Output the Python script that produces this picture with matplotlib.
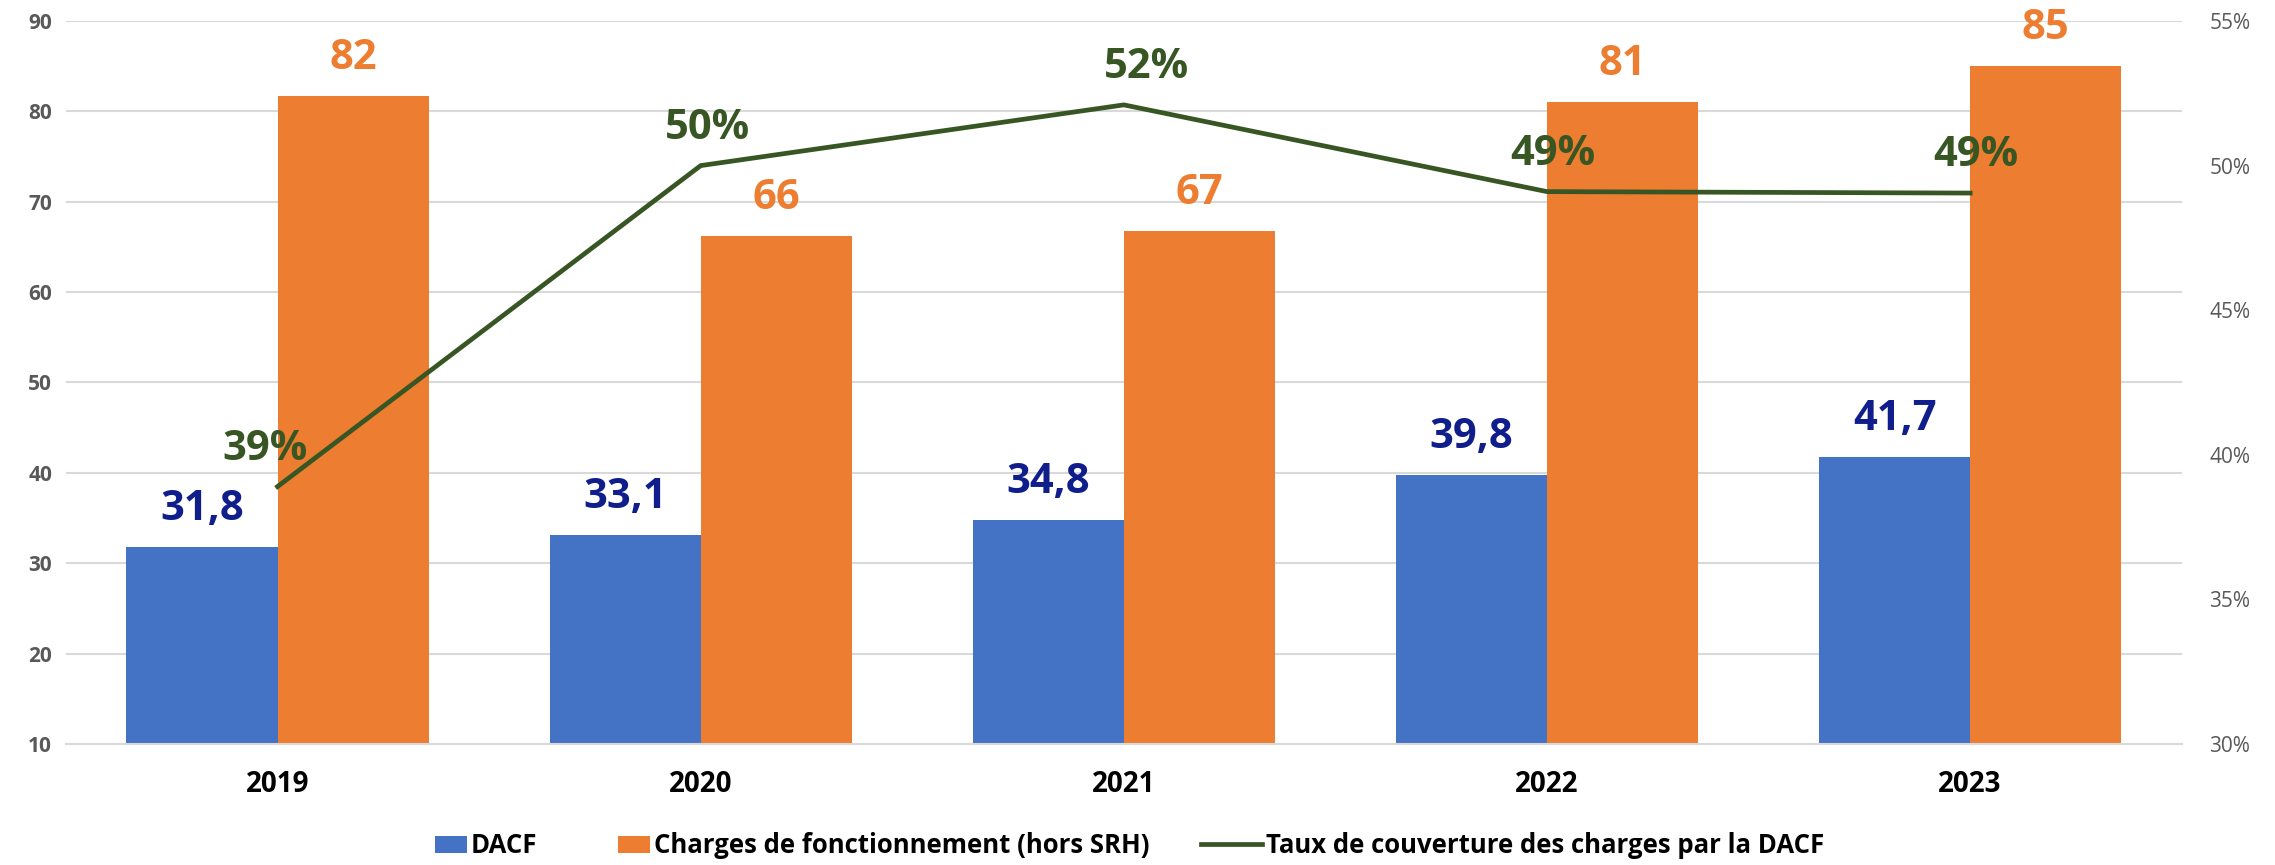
import numpy as np
import matplotlib.pyplot as plt
import matplotlib.patches as mpatches
from matplotlib.container import BarContainer
from matplotlib.legend_handler import HandlerPatch, update_from_first_child
from matplotlib.ticker import FuncFormatter

plt.rcParams['font.family'] = ['Open Sans', 'DejaVu Sans']

# Données
annees = ['2019', '2020', '2021', '2022', '2023']
dacf = [31.8, 33.1, 34.8, 39.8, 41.7]
charges = [81.7, 66.2, 66.8, 81.0, 85.0]
taux = [38.9, 50.0, 52.1, 49.1, 49.05]

bleu = '#4472C4'
orange = '#ED7D31'
vert = '#375623'
bleu_fonce = '#101E8C'

fig = plt.figure(figsize=(22.75, 8.65), dpi=100)
ax = fig.add_axes([0.029, 0.14, 0.93, 0.8357])
ax2 = ax.twinx()

x = np.arange(len(annees))
w = 0.357

ax.bar(x - w / 2, dacf, w, color=bleu, label='DACF', zorder=2)
ax.bar(x + w / 2, charges, w, color=orange, label='Charges de fonctionnement (hors SRH)', zorder=2)

ax.set_ylim(10, 90)
ax.set_yticks(np.arange(10, 91, 10))
ax.set_xlim(-0.5, len(annees) - 0.5)
ax.grid(axis='y', color='#D9D9D9', linewidth=1.5, zorder=0)
ax.set_axisbelow(True)
for s in list(ax.spines.values()) + list(ax2.spines.values()):
    s.set_visible(False)
ax.spines['bottom'].set_visible(True)
ax.spines['bottom'].set_color('#D9D9D9')
ax.spines['bottom'].set_linewidth(1.5)

ax.set_xticks(x)
ax.set_xticklabels(annees, fontsize=20, fontweight='bold', color='black')
ax.tick_params(axis='x', length=0, pad=19)
ax.tick_params(axis='y', length=0, labelsize=15, labelcolor='#595959', pad=10)
for t in ax.get_yticklabels():
    t.set_fontweight('bold')

# Étiquettes des barres
for xi, v in zip(x, dacf):
    ax.annotate(f'{v:.1f}'.replace('.', ','), (xi - w / 2, v), xytext=(0, 27),
                textcoords='offset points', ha='center', va='center',
                fontsize=30, fontweight='bold', color=bleu_fonce)
for xi, v in zip(x, charges):
    ax.annotate(f'{v:.0f}', (xi + w / 2, v), xytext=(0, 27),
                textcoords='offset points', ha='center', va='center',
                fontsize=30, fontweight='bold', color=orange)

# Taux de couverture
ax2.plot(x, taux, color=vert, linewidth=3.4, label='Taux de couverture des charges par la DACF', zorder=3)
ax2.set_ylim(30, 55)
ax2.set_yticks(np.arange(30, 56, 5))
ax2.yaxis.set_major_formatter(FuncFormatter(lambda v, p: f'{v:.0f}%'))
ax2.tick_params(axis='y', length=0, labelsize=15, labelcolor='#595959', pad=20)
decal = [-9, 5, 16, 4, 4]
for xi, v, dx in zip(x, taux, decal):
    ax2.annotate(f'{v:.0f}%', (xi, v), xytext=(dx, 27),
                 textcoords='offset points', ha='center', va='center',
                 fontsize=30, fontweight='bold', color=vert)


# petit rectangle collé au texte, comme dans Excel
def petit_rect(legend, orig_handle, xdescent, ydescent, width, height, fontsize):
    rw, rh = 1.25 * fontsize, 0.66 * fontsize
    return mpatches.Rectangle((-xdescent + width - rw, -ydescent + (height - rh) / 2), rw, rh)


h1, l1 = ax.get_legend_handles_labels()
h2, l2 = ax2.get_legend_handles_labels()
fig.legend(h1 + h2, l1 + l2, loc='center', bbox_to_anchor=(0.49, 0.022), ncol=3,
           frameon=False, prop={'size': 18.5, 'weight': 'bold'},
           handlelength=2.4, handletextpad=0.15, columnspacing=2.0,
           handler_map={BarContainer: HandlerPatch(patch_func=petit_rect,
                                                   update_func=update_from_first_child)})

fig.savefig('out.png', dpi=100)
